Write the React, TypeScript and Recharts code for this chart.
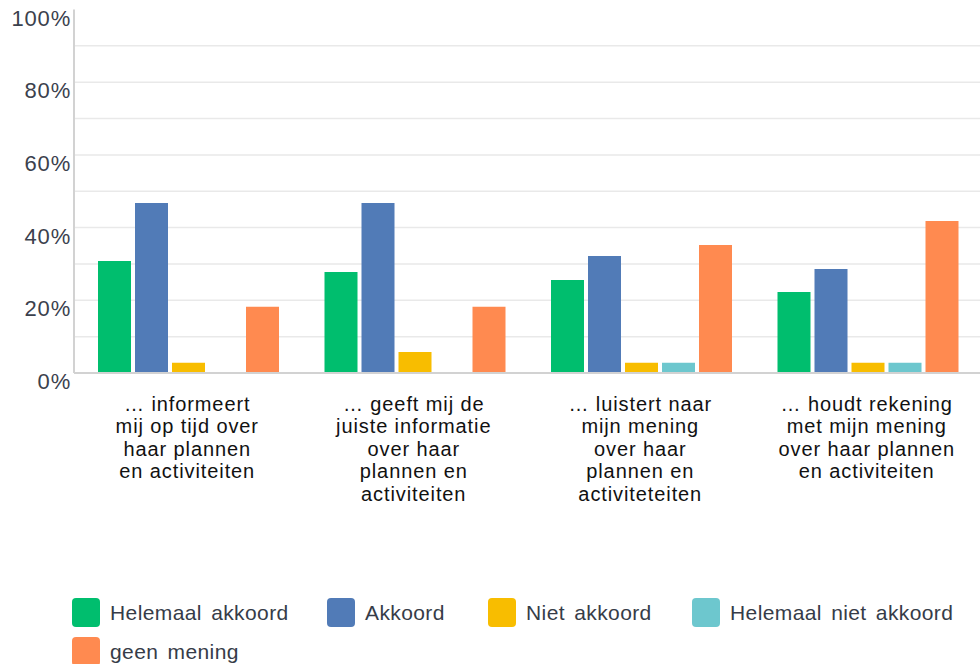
import React from 'react';
import { BarChart, Bar, XAxis, YAxis, CartesianGrid, Legend } from 'recharts';

const categories = [
  '… informeert mij op tijd over haar plannen en activiteiten',
  '… geeft mij de juiste informatie over haar plannen en activiteiten',
  '… luistert naar mijn mening over haar plannen en activiteteiten',
  '… houdt rekening met mijn mening over haar plannen en activiteiten',
];

const categoryLines = [
  ['… informeert', 'mij op tijd over', 'haar plannen', 'en activiteiten'],
  ['… geeft mij de', 'juiste informatie', 'over haar', 'plannen en', 'activiteiten'],
  ['… luistert naar', 'mijn mening', 'over haar', 'plannen en', 'activiteteiten'],
  ['… houdt rekening', 'met mijn mening', 'over haar plannen', 'en activiteiten'],
];

const helemaalAkkoord = [30.8, 27.8, 25.6, 22.3];
const akkoord = [46.8, 46.8, 32.2, 28.6];
const nietAkkoord = [2.8, 5.8, 2.8, 2.8];
const helemaalNietAkkoord = [0, 0, 2.8, 2.8];
const geenMening = [18.2, 18.2, 35.2, 41.8];

const seriesNames = ['Helemaal akkoord', 'Akkoord', 'Niet akkoord', 'Helemaal niet akkoord', 'geen mening'];
const seriesKeys = ['ha', 'a', 'na', 'hna', 'gm'];
const seriesColors = ['#00BE6E', '#517BB7', '#F8BD00', '#6DC7CE', '#FF8A50'];

const yTicks = [0, 10, 20, 30, 40, 50, 60, 70, 80, 90, 100];
const yLabelTicks = [0, 20, 40, 60, 80, 100];
const gridValues = [10, 20, 30, 40, 50, 60, 70, 80, 90];

const legendItemWidths = [255, 161, 204, 288, 288];

const data = categories.map((c, i) => ({
  name: c,
  ha: helemaalAkkoord[i],
  a: akkoord[i],
  na: nietAkkoord[i],
  hna: helemaalNietAkkoord[i],
  gm: geenMening[i],
}));

const FONT = '"Liberation Sans", Arial, Helvetica, sans-serif';

const XTick = (props: any) => {
  const { x, y, payload } = props;
  const idx = categories.indexOf(payload.value);
  const lines = categoryLines[idx] || [payload.value];
  return (
    <text x={x} y={y + 38} textAnchor="middle" fontSize={20} fill="#111" fontFamily={FONT} letterSpacing={0.9}>
      {lines.map((l, i) => (
        <tspan key={i} x={x} dy={i === 0 ? 0 : 22.4}>
          {l}
        </tspan>
      ))}
    </text>
  );
};

const YTick = (props: any) => {
  const { x, y, payload } = props;
  if (!yLabelTicks.includes(payload.value)) return <g />;
  return (
    <text x={x - 3} y={y + 16} textAnchor="end" fontSize={22} fill="#3b414d" fontFamily={FONT} letterSpacing={0.8}>
      {payload.value + '%'}
    </text>
  );
};

const LegendContent = () => (
  <div style={{ height: 72, width: 980, boxSizing: 'border-box', paddingLeft: 72, paddingTop: 1, fontFamily: FONT, fontSize: 21, color: '#363c48', letterSpacing: 0.4, wordSpacing: 3 }}>
    <div style={{ display: 'flex', flexWrap: 'wrap', width: 908 }}>
      {seriesNames.map((n, i) => (
        <div key={n} style={{ display: 'flex', alignItems: 'center', height: 39, width: legendItemWidths[i] }}>
          <span style={{ display: 'inline-block', width: 28, height: 29, borderRadius: 4, background: seriesColors[i], marginRight: 10, flex: 'none' }} />
          <span style={{ whiteSpace: 'nowrap' }}>{n}</span>
        </div>
      ))}
    </div>
  </div>
);

export default function App() {
  return (
    <div style={{ position: 'absolute', left: 0, top: 0, width: 980, height: 664, background: '#fff' }}>
      <BarChart
        width={980}
        height={664}
        data={data}
        margin={{ top: 9.5, right: 0, bottom: 0, left: 0 }}
        barCategoryGap={24}
        barGap={4}
      >
        <CartesianGrid vertical={false} stroke="#e9e9e9" strokeWidth={1.5} horizontalValues={gridValues} />
        <XAxis
          dataKey="name"
          height={219}
          tick={<XTick />}
          tickLine={false}
          tickSize={0}
          tickMargin={0}
          interval={0}
          axisLine={{ stroke: '#d2d2d2', strokeWidth: 2 }}
        />
        <YAxis
          width={74}
          domain={[0, 100]}
          ticks={yTicks}
          interval={0}
          tick={<YTick />}
          tickLine={false}
          tickSize={0}
          tickMargin={0}
          axisLine={{ stroke: '#d2d2d2', strokeWidth: 2 }}
        />
        <Legend
          verticalAlign="bottom"
          content={<LegendContent />}
          wrapperStyle={{ left: 0, bottom: 0, width: 980, margin: 0, padding: 0 }}
        />
        {seriesKeys.map((k, i) => (
          <Bar key={k} dataKey={k} name={seriesNames[i]} fill={seriesColors[i]} isAnimationActive={false} />
        ))}
      </BarChart>
    </div>
  );
}
